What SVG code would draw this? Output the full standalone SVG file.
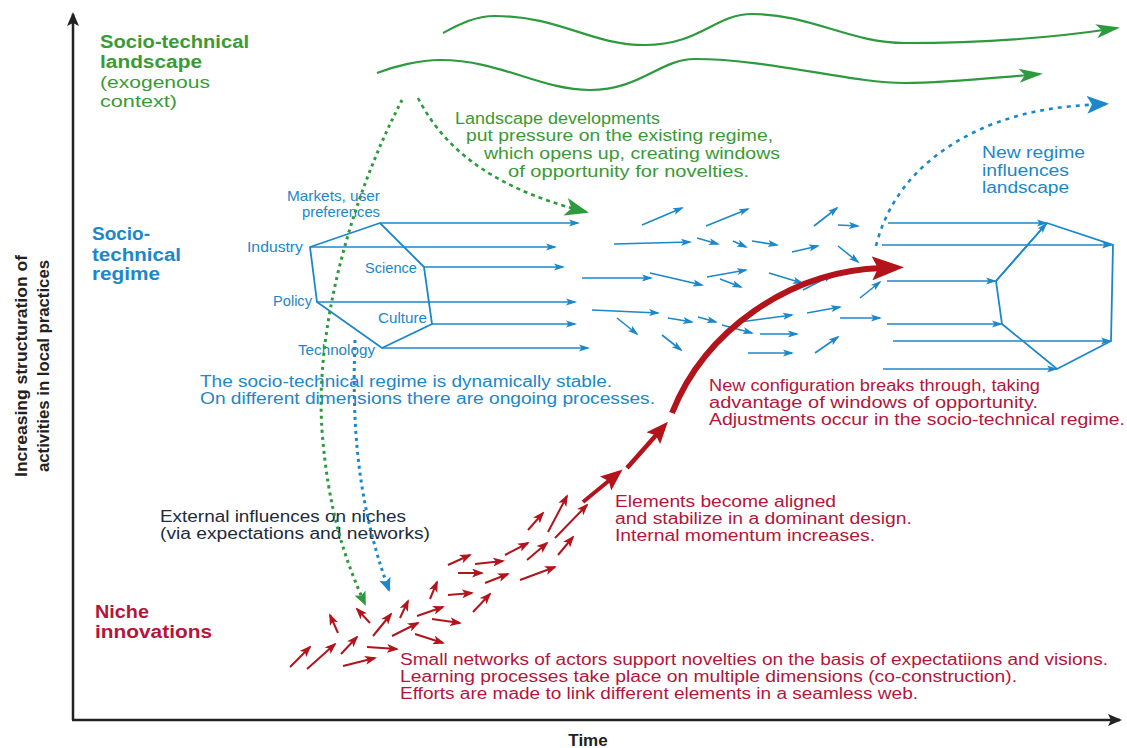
<svg xmlns="http://www.w3.org/2000/svg" width="1127" height="748" viewBox="0 0 1127 748">
<style>
text{font-family:"Liberation Sans",Arial,sans-serif}
.g{fill:#3a9a35}
.b{fill:#1c87c9}
.r{fill:#b3163a}
.k{fill:#1d2b3a}
.h{font-weight:bold;font-size:18px}
.t{font-size:16px}
.s{font-size:14.5px}
.bl{stroke:#1c87c9;stroke-width:1.6;fill:none}
.rl{stroke:#b3131b;stroke-width:2;fill:none}
.sa{marker-end:url(#ab)}
.ra{marker-end:url(#ar)}
</style>
<defs>
<marker id="ab" markerUnits="userSpaceOnUse" markerWidth="11" markerHeight="8" refX="9" refY="4" orient="auto"><path d="M0,0.5 L11,4 L0,7.5 L2.5,4 z" fill="#1c87c9"/></marker>
<marker id="ar" markerUnits="userSpaceOnUse" markerWidth="12" markerHeight="9" refX="10" refY="4.5" orient="auto"><path d="M0,0 L12,4.5 L0,9 L3,4.5 z" fill="#b3131b"/></marker>
<marker id="ag" markerUnits="userSpaceOnUse" markerWidth="24" markerHeight="16" refX="21" refY="8" orient="auto"><path d="M0,1 L24,8 L0,15 L6,8 z" fill="#2e9a3e"/></marker>
<marker id="agb" markerUnits="userSpaceOnUse" markerWidth="24" markerHeight="18" refX="21" refY="9" orient="auto"><path d="M0,0 L24,9 L0,18 L6,9 z" fill="#2e9a3e"/></marker>
<marker id="ags" markerUnits="userSpaceOnUse" markerWidth="14" markerHeight="12" refX="12" refY="6" orient="auto"><path d="M0,0 L14,6 L0,12 L3,6 z" fill="#2e9a3e"/></marker>
<marker id="abs" markerUnits="userSpaceOnUse" markerWidth="14" markerHeight="12" refX="12" refY="6" orient="auto"><path d="M0,0 L14,6 L0,12 L3,6 z" fill="#1c87c9"/></marker>
<marker id="abt" markerUnits="userSpaceOnUse" markerWidth="22" markerHeight="18" refX="19" refY="9" orient="auto"><path d="M0,0 L22,9 L0,18 L5,9 z" fill="#1c87c9"/></marker>
<marker id="rbig" markerUnits="userSpaceOnUse" markerWidth="32" markerHeight="24" refX="10" refY="12" orient="auto"><path d="M0,0 L32,12 L0,24 L6,12 z" fill="#b3131b"/></marker>
<marker id="rmed" markerUnits="userSpaceOnUse" markerWidth="22" markerHeight="18" refX="7" refY="9" orient="auto"><path d="M0,0 L22,9 L0,18 L4,9 z" fill="#b3131b"/></marker>
<marker id="ak" markerUnits="userSpaceOnUse" markerWidth="14" markerHeight="12" refX="12" refY="6" orient="auto"><path d="M0,0 L14,6 L0,12 L3,6 z" fill="#222"/></marker>
</defs>
<rect width="1127" height="748" fill="#fff"/>

<g id="axes">
<line x1="73" y1="720" x2="73" y2="14" stroke="#222" stroke-width="2.5" marker-end="url(#ak)"/>
<line x1="72" y1="720" x2="1120" y2="720" stroke="#222" stroke-width="2.5" marker-end="url(#ak)"/>
<text x="588" y="746" text-anchor="middle" font-weight="bold" fill="#222" font-size="17">Time</text>
<g transform="translate(27,366) rotate(-90)"><text x="0" y="0" text-anchor="middle" font-weight="bold" font-size="16" fill="#222" textLength="222" lengthAdjust="spacingAndGlyphs">Increasing  structuration of</text></g>
<g transform="translate(49,366) rotate(-90)"><text x="0" y="0" text-anchor="middle" font-weight="bold" font-size="16" fill="#222" textLength="212" lengthAdjust="spacingAndGlyphs">activities in local practices</text></g>
</g>

<g id="landscape-label">
<text class="g h" x="100" y="48" textLength="149" lengthAdjust="spacingAndGlyphs">Socio-technical</text>
<text class="g h" x="100" y="68" textLength="102" lengthAdjust="spacingAndGlyphs">landscape</text>
<text class="g t" x="100" y="88" textLength="110" lengthAdjust="spacingAndGlyphs">(exogenous</text>
<text class="g t" x="100" y="107" textLength="77" lengthAdjust="spacingAndGlyphs">context)</text>
</g>
<g id="regime-label">
<text class="b h" x="92" y="240" textLength="58" lengthAdjust="spacingAndGlyphs">Socio-</text>
<text class="b h" x="92" y="261" textLength="89" lengthAdjust="spacingAndGlyphs">technical</text>
<text class="b h" x="92" y="280" textLength="68" lengthAdjust="spacingAndGlyphs">regime</text>
</g>
<g id="niche-label">
<text class="r h" x="95" y="618" textLength="54" lengthAdjust="spacingAndGlyphs">Niche</text>
<text class="r h" x="95" y="638" textLength="117" lengthAdjust="spacingAndGlyphs">innovations</text>
</g>

<g id="landscape-developments">
<text class="g t" x="455" y="124" textLength="205" lengthAdjust="spacingAndGlyphs">Landscape developments</text>
<text class="g t" x="466" y="141" textLength="307" lengthAdjust="spacingAndGlyphs">put pressure on the existing regime,</text>
<text class="g t" x="484" y="159" textLength="296" lengthAdjust="spacingAndGlyphs">which opens up, creating windows</text>
<text class="g t" x="508" y="177" textLength="241" lengthAdjust="spacingAndGlyphs">of opportunity for novelties.</text>
</g>
<g id="new-regime-text">
<text class="b t" x="982" y="158" textLength="103" lengthAdjust="spacingAndGlyphs">New regime</text>
<text class="b t" x="982" y="176" textLength="87" lengthAdjust="spacingAndGlyphs">influences</text>
<text class="b t" x="982" y="193" textLength="87" lengthAdjust="spacingAndGlyphs">landscape</text>
</g>

<g id="regime-hexagon">
<polygon points="380,223 310,247 317,302 382,348 432,324 424,267" fill="none" stroke="#1c87c9" stroke-width="1.8"/>
<text class="b s" x="380" y="201" text-anchor="end" textLength="93" lengthAdjust="spacingAndGlyphs">Markets, user</text>
<text class="b s" x="380" y="217" text-anchor="end" textLength="78" lengthAdjust="spacingAndGlyphs">preferences</text>
<text class="b s" x="303" y="252" text-anchor="end" textLength="56" lengthAdjust="spacingAndGlyphs">Industry</text>
<text class="b s" x="365" y="273" textLength="52" lengthAdjust="spacingAndGlyphs">Science</text>
<text class="b s" x="312" y="306" text-anchor="end" textLength="39" lengthAdjust="spacingAndGlyphs">Policy</text>
<text class="b s" x="378" y="323" textLength="49" lengthAdjust="spacingAndGlyphs">Culture</text>
<text class="b s" x="375" y="355" text-anchor="end" textLength="77" lengthAdjust="spacingAndGlyphs">Technology</text>
</g>
<g id="regime-text">
<text class="b t" x="200" y="387" textLength="412" lengthAdjust="spacingAndGlyphs">The socio-technical regime is dynamically stable.</text>
<text class="b t" x="200" y="404" textLength="455" lengthAdjust="spacingAndGlyphs">On  different dimensions there are ongoing processes.</text>
</g>

<g id="new-regime-hexagon">
<polygon points="1047,223 1113,245 1111,341 1057,369 1002,324 996,281" fill="none" stroke="#1c87c9" stroke-width="1.8"/>
</g>

<g id="external-text">
<text class="k t" x="160" y="522" textLength="246" lengthAdjust="spacingAndGlyphs">External influences on niches</text>
<text class="k t" x="160" y="539" textLength="270" lengthAdjust="spacingAndGlyphs">(via expectations and networks)</text>
</g>
<g id="breakthrough-text">
<text class="r t" x="709" y="391" textLength="331" lengthAdjust="spacingAndGlyphs">New configuration breaks through, taking</text>
<text class="r t" x="709" y="408" textLength="329" lengthAdjust="spacingAndGlyphs">advantage of windows of opportunity.</text>
<text class="r t" x="709" y="425" textLength="416" lengthAdjust="spacingAndGlyphs">Adjustments occur in the socio-technical regime.</text>
</g>
<g id="aligned-text">
<text class="r t" x="615" y="507" textLength="221" lengthAdjust="spacingAndGlyphs">Elements become aligned</text>
<text class="r t" x="615" y="524" textLength="297" lengthAdjust="spacingAndGlyphs">and stabilize  in a dominant design.</text>
<text class="r t" x="615" y="541" textLength="260" lengthAdjust="spacingAndGlyphs">Internal momentum increases.</text>
</g>
<g id="niche-text">
<text class="r t" x="400" y="665" textLength="708" lengthAdjust="spacingAndGlyphs">Small networks of actors support novelties on the basis of expectatiions and visions.</text>
<text class="r t" x="400" y="682" textLength="617" lengthAdjust="spacingAndGlyphs">Learning  processes take place on multiple dimensions (co-construction).</text>
<text class="r t" x="400" y="699" textLength="518" lengthAdjust="spacingAndGlyphs">Efforts are made to link different elements in a seamless web.</text>
</g>

<g id="connectors">
<path d="M443,33 C460,24 475,16 495,16 C560,16 590,45 645,45 C700,45 715,14 752,14 C810,14 850,43 905,43 C960,43 1040,40 1117,28" fill="none" stroke="#2e9a3e" stroke-width="2.2" marker-end="url(#ag)"/>
<path d="M377,73 C395,66 420,60 440,60 C500,60 540,90 590,90 C640,90 660,59 695,59 C770,59 850,83 905,83 C950,83 990,78 1040,74" fill="none" stroke="#2e9a3e" stroke-width="2.2" marker-end="url(#ag)"/>
<path d="M418,98 C440,140 480,185 586,212" fill="none" stroke="#2e9a3e" stroke-width="2.6" stroke-dasharray="4 4" marker-end="url(#agb)"/>
<path d="M402,100 C350,200 315,330 322,430 C328,510 345,560 365,604" fill="none" stroke="#2e9a3e" stroke-width="3" stroke-dasharray="3 4" marker-end="url(#ags)"/>
<path d="M355,340 C352,420 356,500 389,590" fill="none" stroke="#1c87c9" stroke-width="3" stroke-dasharray="3 4" marker-end="url(#abs)"/>
<path d="M876,246 C890,190 930,150 990,125 C1030,110 1060,106 1106,104" fill="none" stroke="#1c87c9" stroke-width="2.6" stroke-dasharray="4 5" marker-end="url(#abt)"/>

<line class="bl sa" x1="380" y1="223" x2="578" y2="223"/>
<line class="bl sa" x1="310" y1="247" x2="555" y2="247"/>
<line class="bl sa" x1="424" y1="267" x2="563" y2="267"/>
<line class="bl sa" x1="317" y1="302" x2="575" y2="302"/>
<line class="bl sa" x1="432" y1="324" x2="575" y2="324"/>
<line class="bl sa" x1="382" y1="348" x2="588" y2="348"/>

<line class="bl sa" x1="642" y1="225" x2="682" y2="208"/>
<line class="bl sa" x1="706" y1="226" x2="748" y2="209"/>
<line class="bl sa" x1="814" y1="226" x2="837" y2="208"/>
<line class="bl sa" x1="838" y1="225" x2="858" y2="226"/>
<line class="bl sa" x1="614" y1="244" x2="690" y2="242"/>
<line class="bl sa" x1="697" y1="238" x2="718" y2="244"/>
<line class="bl sa" x1="733" y1="241" x2="746" y2="247"/>
<line class="bl sa" x1="752" y1="241" x2="777" y2="245"/>
<line class="bl sa" x1="792" y1="252" x2="818" y2="246"/>
<line class="bl sa" x1="838" y1="246" x2="858" y2="262"/>
<line class="bl sa" x1="582" y1="278" x2="651" y2="278"/>
<line class="bl sa" x1="650" y1="273" x2="702" y2="285"/>
<line class="bl sa" x1="707" y1="277" x2="746" y2="270"/>
<line class="bl sa" x1="720" y1="279" x2="741" y2="287"/>
<line class="bl sa" x1="769" y1="273" x2="802" y2="283"/>
<line class="bl sa" x1="803" y1="290" x2="832" y2="275"/>
<line class="bl sa" x1="860" y1="298" x2="880" y2="282"/>
<line class="bl sa" x1="592" y1="310" x2="658" y2="313"/>
<line class="bl sa" x1="617" y1="318" x2="637" y2="334"/>
<line class="bl sa" x1="668" y1="318" x2="692" y2="322"/>
<line class="bl sa" x1="698" y1="317" x2="716" y2="322"/>
<line class="bl sa" x1="722" y1="325" x2="752" y2="333"/>
<line class="bl sa" x1="740" y1="322" x2="792" y2="315"/>
<line class="bl sa" x1="807" y1="313" x2="840" y2="307"/>
<line class="bl sa" x1="840" y1="318" x2="880" y2="318"/>
<line class="bl sa" x1="662" y1="335" x2="681" y2="350"/>
<line class="bl sa" x1="760" y1="334" x2="797" y2="334"/>
<line class="bl sa" x1="748" y1="353" x2="792" y2="353"/>
<line class="bl sa" x1="815" y1="353" x2="838" y2="337"/>

<line class="bl sa" x1="888" y1="223" x2="1046" y2="223"/>
<line class="bl sa" x1="882" y1="245" x2="1111" y2="245"/>
<line class="bl sa" x1="887" y1="281" x2="995" y2="281"/>
<line class="bl sa" x1="887" y1="324" x2="1001" y2="324"/>
<line class="bl sa" x1="893" y1="341" x2="1110" y2="341"/>
<line class="bl sa" x1="883" y1="369" x2="1056" y2="369"/>
<line class="bl sa" x1="996" y1="281" x2="1046" y2="224"/>

<line class="rl ra" x1="290" y1="667" x2="310" y2="647"/>
<line class="rl ra" x1="307" y1="669" x2="335" y2="644"/>
<line class="rl ra" x1="341" y1="654" x2="357" y2="637"/>
<line class="rl ra" x1="343" y1="666" x2="375" y2="658"/>
<line class="rl ra" x1="367" y1="647" x2="397" y2="649"/>
<line class="rl ra" x1="373" y1="636" x2="391" y2="614"/>
<line class="rl ra" x1="392" y1="636" x2="418" y2="623"/>
<line class="rl ra" x1="415" y1="634" x2="443" y2="643"/>
<line class="rl ra" x1="338" y1="633" x2="330" y2="615"/>
<line class="rl ra" x1="370" y1="623" x2="357" y2="609"/>
<line class="rl ra" x1="400" y1="618" x2="408" y2="601"/>
<line class="rl ra" x1="417" y1="616" x2="443" y2="607"/>
<line class="rl ra" x1="432" y1="619" x2="460" y2="623"/>
<line class="rl ra" x1="430" y1="599" x2="437" y2="582"/>
<line class="rl ra" x1="448" y1="595" x2="472" y2="593"/>
<line class="rl ra" x1="473" y1="612" x2="490" y2="594"/>
<line class="rl ra" x1="448" y1="565" x2="470" y2="555"/>
<line class="rl ra" x1="458" y1="573" x2="482" y2="573"/>
<line class="rl ra" x1="485" y1="583" x2="508" y2="574"/>
<line class="rl ra" x1="475" y1="564" x2="503" y2="561"/>
<line class="rl ra" x1="505" y1="555" x2="528" y2="543"/>
<line class="rl ra" x1="520" y1="580" x2="555" y2="567"/>
<line class="rl ra" x1="527" y1="560" x2="547" y2="543"/>
<line class="rl ra" x1="528" y1="530" x2="543" y2="513"/>
<line class="rl ra" x1="548" y1="532" x2="567" y2="496"/>
<line class="rl ra" x1="555" y1="538" x2="587" y2="505"/>
<line class="rl ra" x1="558" y1="555" x2="573" y2="537"/>

<line x1="583" y1="502" x2="611" y2="479" stroke="#b3131b" stroke-width="4" marker-end="url(#rmed)"/>
<line x1="627" y1="468" x2="658" y2="433" stroke="#b3131b" stroke-width="4.5" marker-end="url(#rmed)"/>
<path d="M672,413 C705,330 790,271 882,268" fill="none" stroke="#b3131b" stroke-width="6" marker-end="url(#rbig)"/>
</g>
</svg>
